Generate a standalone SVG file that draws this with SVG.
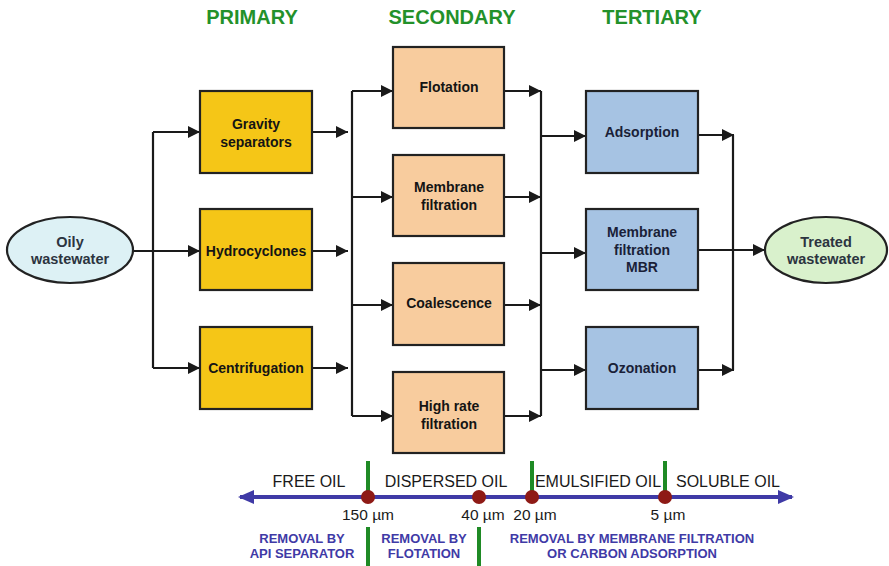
<svg xmlns="http://www.w3.org/2000/svg" width="889" height="566" viewBox="0 0 889 566">
  <defs>
    <marker id="arrow" viewBox="0 0 12 12" refX="12" refY="6" markerWidth="12" markerHeight="12" markerUnits="userSpaceOnUse" orient="auto">
      <path d="M0 0 L12 6 L0 12 Z" fill="#1a1a1a"/>
    </marker>
    <marker id="scaleArrow" viewBox="0 0 16 14" refX="14" refY="7" markerWidth="16" markerHeight="14" markerUnits="userSpaceOnUse" orient="auto-start-reverse">
      <path d="M0 0 L16 7 L0 14 Z" fill="#3f3aa6"/>
    </marker>
    <style>
      text { font-family: "Liberation Sans", Arial, sans-serif; }
      .hdr { font-size: 20px; font-weight: bold; fill: #23912a; text-anchor: middle; }
      .box { stroke: #222; stroke-width: 2.2; }
      .prim { fill: #f5c617; }
      .sec { fill: #f8cc9e; }
      .ter { fill: #a6c3e3; }
      .lbl { font-size: 14px; font-weight: bold; fill: #141414; text-anchor: middle; }
      .lblb { font-size: 14px; font-weight: bold; fill: #1a1f38; text-anchor: middle; }
      .ell { stroke: #222; stroke-width: 2.2; }
      .elbl { font-size: 14.5px; font-weight: bold; fill: #2c3440; text-anchor: middle; }
      .conn path { fill: none; stroke: #1a1a1a; stroke-width: 2.2; }
      .arr { marker-end: url(#arrow); }
      .cls { font-size: 16px; fill: #1a1a1a; text-anchor: middle; }
      .size { font-size: 15.5px; fill: #1a1a1a; text-anchor: middle; }
      .rem { font-size: 13px; font-weight: bold; fill: #3f3aa6; text-anchor: middle; }
      .bar { stroke: #1f8a25; stroke-width: 4; }
      .dot { fill: #8e1a16; }
    </style>
  </defs>

  <rect width="889" height="566" fill="#ffffff"/>

  <!-- stage headings -->
  <text class="hdr" x="252" y="24">PRIMARY</text>
  <text class="hdr" x="452" y="24">SECONDARY</text>
  <text class="hdr" x="652" y="24">TERTIARY</text>

  <!-- connectors -->
  <g id="connectors" class="conn">
    <path class="arr" d="M133 251 H200"/>
    <path d="M153 132 V368"/>
    <path class="arr" d="M153 132 H200"/>
    <path class="arr" d="M153 368 H200"/>

    <path class="arr" d="M312 132 H348"/>
    <path class="arr" d="M312 251 H348"/>
    <path class="arr" d="M312 368 H348"/>

    <path d="M352 91 V416"/>
    <path class="arr" d="M352 91 H393"/>
    <path class="arr" d="M352 197 H393"/>
    <path class="arr" d="M352 305 H393"/>
    <path class="arr" d="M352 416 H393"/>

    <path class="arr" d="M504 91 H541"/>
    <path class="arr" d="M504 197 H541"/>
    <path class="arr" d="M504 305 H541"/>
    <path class="arr" d="M504 416 H541"/>
    <path d="M541 91 V416"/>

    <path class="arr" d="M541 136 H586"/>
    <path class="arr" d="M541 253 H586"/>
    <path class="arr" d="M541 370 H586"/>

    <path class="arr" d="M698 135 H734"/>
    <path class="arr" d="M698 370 H734"/>
    <path d="M733 135 V370"/>
    <path class="arr" d="M698 250 H765"/>
  </g>

  <!-- input -->
  <g id="oily-wastewater">
    <ellipse class="ell" cx="70" cy="250" rx="63" ry="33" fill="#ddf1f5"/>
    <text class="elbl" x="70" y="247">Oily</text>
    <text class="elbl" x="70" y="264">wastewater</text>
  </g>

  <!-- primary -->
  <g id="gravity-separators">
    <rect class="box prim" x="200" y="91" width="112" height="82"/>
    <text class="lbl" x="256" y="129">Gravity</text>
    <text class="lbl" x="256" y="147">separators</text>
  </g>
  <g id="hydrocyclones">
    <rect class="box prim" x="200" y="209" width="112" height="81"/>
    <text class="lbl" x="256" y="256">Hydrocyclones</text>
  </g>
  <g id="centrifugation">
    <rect class="box prim" x="200" y="327" width="112" height="82"/>
    <text class="lbl" x="256" y="373">Centrifugation</text>
  </g>

  <!-- secondary -->
  <g id="flotation">
    <rect class="box sec" x="393" y="47" width="111" height="81"/>
    <text class="lbl" x="449" y="92">Flotation</text>
  </g>
  <g id="membrane-filtration">
    <rect class="box sec" x="393" y="155" width="111" height="81"/>
    <text class="lbl" x="449" y="192">Membrane</text>
    <text class="lbl" x="449" y="210">filtration</text>
  </g>
  <g id="coalescence">
    <rect class="box sec" x="393" y="263" width="111" height="82"/>
    <text class="lbl" x="449" y="308">Coalescence</text>
  </g>
  <g id="high-rate-filtration">
    <rect class="box sec" x="393" y="372" width="111" height="81"/>
    <text class="lbl" x="449" y="411">High rate</text>
    <text class="lbl" x="449" y="429">filtration</text>
  </g>

  <!-- tertiary -->
  <g id="adsorption">
    <rect class="box ter" x="586" y="91" width="112" height="82"/>
    <text class="lblb" x="642" y="137">Adsorption</text>
  </g>
  <g id="membrane-filtration-mbr">
    <rect class="box ter" x="586" y="209" width="112" height="81"/>
    <text class="lblb" x="642" y="237">Membrane</text>
    <text class="lblb" x="642" y="255">filtration</text>
    <text class="lblb" x="642" y="272">MBR</text>
  </g>
  <g id="ozonation">
    <rect class="box ter" x="586" y="327" width="112" height="82"/>
    <text class="lblb" x="642" y="373">Ozonation</text>
  </g>

  <!-- output -->
  <g id="treated-wastewater">
    <ellipse class="ell" cx="826" cy="250" rx="61" ry="33" fill="#d9f1cc"/>
    <text class="elbl" x="826" y="247">Treated</text>
    <text class="elbl" x="826" y="264">wastewater</text>
  </g>

  <!-- droplet size scale -->
  <g id="size-scale">
    <line class="bar" x1="368" y1="461" x2="368" y2="497"/>
    <line class="bar" x1="532" y1="461" x2="532" y2="497"/>
    <line class="bar" x1="665" y1="461" x2="665" y2="497"/>
    <line class="bar" x1="368" y1="527" x2="368" y2="566"/>
    <line class="bar" x1="479" y1="527" x2="479" y2="566"/>

    <line x1="240" y1="497" x2="792" y2="497" stroke="#3f3aa6" stroke-width="4" marker-start="url(#scaleArrow)" marker-end="url(#scaleArrow)"/>

    <circle class="dot" cx="368" cy="497" r="7"/>
    <circle class="dot" cx="479" cy="497" r="7"/>
    <circle class="dot" cx="532" cy="497" r="7"/>
    <circle class="dot" cx="665" cy="497" r="7"/>

    <text class="cls" x="309" y="487">FREE OIL</text>
    <text class="cls" x="446" y="487">DISPERSED OIL</text>
    <text class="cls" x="598" y="487">EMULSIFIED OIL</text>
    <text class="cls" x="728" y="487">SOLUBLE OIL</text>

    <text class="size" x="368" y="520">150 µm</text>
    <text class="size" x="483" y="520">40 µm</text>
    <text class="size" x="535" y="520">20 µm</text>
    <text class="size" x="668" y="520">5 µm</text>

    <text class="rem" x="302" y="543">REMOVAL BY</text>
    <text class="rem" x="302" y="558">API SEPARATOR</text>
    <text class="rem" x="424" y="543">REMOVAL BY</text>
    <text class="rem" x="424" y="558">FLOTATION</text>
    <text class="rem" x="632" y="543">REMOVAL BY MEMBRANE FILTRATION</text>
    <text class="rem" x="632" y="558">OR CARBON ADSORPTION</text>
  </g>
</svg>
